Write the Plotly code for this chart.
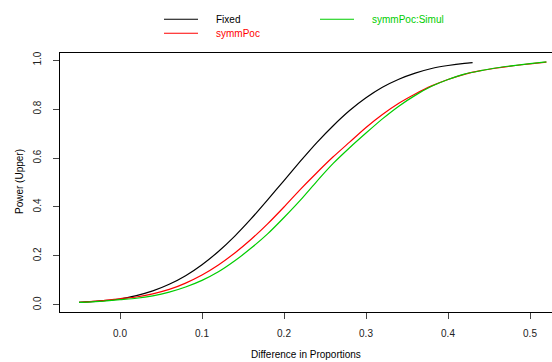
import plotly.graph_objects as go

# ---- data ----
x_fixed = [-0.05, -0.04, -0.02, 0.00, 0.02, 0.04, 0.06, 0.08, 0.10, 0.12, 0.14, 0.16, 0.18,
           0.20, 0.22, 0.24, 0.26, 0.28, 0.30, 0.32, 0.34, 0.36, 0.38, 0.40, 0.42, 0.43]
y_fixed = [0.010, 0.012, 0.017, 0.024, 0.038, 0.057, 0.084, 0.119, 0.164, 0.218, 0.281, 0.352, 0.429,
           0.508, 0.587, 0.663, 0.732, 0.794, 0.846, 0.889, 0.922, 0.947, 0.966, 0.978, 0.987, 0.990]

x_symm = [-0.05, -0.04, -0.02, 0.00, 0.02, 0.04, 0.06, 0.08, 0.10, 0.12, 0.14, 0.16, 0.18,
          0.20, 0.22, 0.24, 0.26, 0.28, 0.30, 0.32, 0.34, 0.36, 0.38, 0.40, 0.42, 0.44,
          0.46, 0.48, 0.50, 0.52]
y_symm = [0.010, 0.012, 0.017, 0.025, 0.032, 0.045, 0.063, 0.089, 0.122, 0.163, 0.212, 0.268, 0.331,
          0.400, 0.472, 0.540, 0.605, 0.665, 0.725, 0.778, 0.824, 0.862, 0.895, 0.921, 0.942, 0.957,
          0.968, 0.977, 0.985, 0.992]

x_simul = [-0.05, -0.04, -0.02, 0.00, 0.02, 0.04, 0.06, 0.08, 0.10, 0.12, 0.14, 0.16, 0.18,
           0.20, 0.22, 0.24, 0.26, 0.28, 0.30, 0.32, 0.34, 0.36, 0.38, 0.40, 0.42, 0.44,
           0.46, 0.48, 0.50, 0.52]
y_simul = [0.010, 0.011, 0.015, 0.021, 0.027, 0.037, 0.052, 0.073, 0.100, 0.135, 0.180, 0.232, 0.290,
           0.357, 0.428, 0.505, 0.578, 0.642, 0.702, 0.760, 0.812, 0.856, 0.893, 0.921, 0.943, 0.957,
           0.969, 0.978, 0.986, 0.993]

series_names = ["Fixed", "symmPoc", "symmPoc:Simul"]
series_colors = ["#000000", "#FF0000", "#00CD00"]

x_ticks = [0.0, 0.1, 0.2, 0.3, 0.4, 0.5]
x_tick_labels = ["0.0", "0.1", "0.2", "0.3", "0.4", "0.5"]
y_ticks = [0.0, 0.2, 0.4, 0.6, 0.8, 1.0]
y_tick_labels = ["0.0", "0.2", "0.4", "0.6", "0.8", "1.0"]

x_title = "Difference in Proportions"
y_title = "Power (Upper)"

# ---- figure ----
W, H = 552, 362
ML, MR, MT, MB = 60, 0, 52.8, 49.8
FONT = "Liberation Sans, Arial, Helvetica, sans-serif"

fig = go.Figure()
for xs, ys, name, col in zip([x_fixed, x_symm, x_simul], [y_fixed, y_symm, y_simul],
                             series_names, series_colors):
    fig.add_trace(go.Scatter(x=xs, y=ys, mode="lines", name=name,
                             line=dict(color=col, width=1.2, shape="spline", smoothing=0.6),
                             showlegend=False, hoverinfo="skip"))

pw = W - ML - MR
ph = H - MT - MB
def px2paper_x(px):
    return (px - ML) / pw
def py2paper_y(py):
    return (H - MB - py) / ph

# manual R-style legend (two columns, no box)
legend_slots = [(164, 19), (164, 33), (320, 19)]
for (lx, ly), name, col in zip(legend_slots, series_names, series_colors):
    fig.add_shape(type="line", xref="paper", yref="paper",
                  x0=px2paper_x(lx), x1=px2paper_x(lx + 34),
                  y0=py2paper_y(ly), y1=py2paper_y(ly),
                  line=dict(color=col, width=1.2))
    fig.add_annotation(xref="paper", yref="paper", x=px2paper_x(lx + 50), y=py2paper_y(ly),
                       text=name, showarrow=False, xanchor="left", yanchor="middle",
                       font=dict(family=FONT, size=10, color=col))

fig.add_annotation(xref="paper", yref="paper", x=px2paper_x(306), y=py2paper_y(355),
                   text=x_title, showarrow=False, xanchor="center", yanchor="middle",
                   font=dict(family=FONT, size=10, color="#000"))
fig.add_annotation(xref="paper", yref="paper", x=px2paper_x(19), y=py2paper_y(182),
                   text=y_title, showarrow=False, xanchor="center", yanchor="middle",
                   textangle=-90, font=dict(family=FONT, size=10, color="#000"))

fig.update_layout(
    width=W, height=H,
    margin=dict(l=ML, r=MR, t=MT, b=MB, pad=0),
    paper_bgcolor="white", plot_bgcolor="white",
    font=dict(family=FONT, size=10, color="#000"),
    xaxis=dict(range=[-60 / 820, 432 / 820], tickvals=x_ticks, ticktext=x_tick_labels,
               showgrid=False, zeroline=False, showline=True, linecolor="#000", linewidth=1,
               mirror=True, ticks="outside", ticklen=6, tickcolor="#444", tickwidth=1,
               tickfont=dict(family=FONT, size=10, color="#222"), automargin=False,
               ticklabelstandoff=6),
    yaxis=dict(range=[-0.0292, 1.0292], tickvals=y_ticks, ticktext=y_tick_labels,
               showgrid=False, zeroline=False, showline=True, linecolor="#000", linewidth=1,
               mirror=False, ticks="outside", ticklen=6, tickcolor="#444", tickwidth=1,
               tickangle=-90, tickfont=dict(family=FONT, size=10, color="#222"), automargin=False,
               ticklabelstandoff=8),
)

fig.write_html("out.html", config={"displayModeBar": False},
               post_script="document.body.style.margin='0px';document.body.style.overflow='hidden';")
